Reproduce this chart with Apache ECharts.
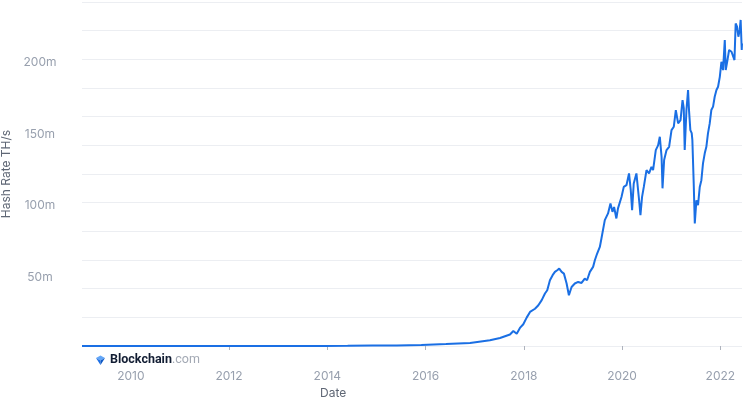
<!DOCTYPE html>
<html>
<head>
<meta charset="utf-8">
<script src="https://cdn.jsdelivr.net/npm/echarts@6/dist/echarts.min.js"></script>
<style>
html,body{margin:0;padding:0;background:#fff;}
#c{width:748px;height:400px;}
</style>
</head>
<body>
<div id="c"></div>
<script>
// Hash rate in million TH/s
var dates = [
  '2009-01-03','2010-07-01','2011-06-01','2012-06-01','2013-06-01','2013-12-01',
  '2014-06-01','2014-12-01','2015-06-01','2015-12-01','2016-06-01','2016-11-27',
  '2017-04-24','2017-07-08','2017-08-14','2017-09-20','2017-10-15','2017-11-09',
  '2017-12-03','2017-12-28','2018-01-22','2018-02-16','2018-03-25','2018-04-19',
  '2018-05-14','2018-06-07','2018-06-24','2018-07-14','2018-08-03','2018-08-20',
  '2018-09-06','2018-09-21','2018-10-09','2018-10-26','2018-11-15','2018-12-02',
  '2018-12-22','2019-01-15','2019-02-09','2019-03-06','2019-03-30','2019-04-16',
  '2019-05-07','2019-05-31','2019-06-13','2019-06-30','2019-07-20','2019-08-01',
  '2019-08-13','2019-08-26','2019-09-19','2019-10-07','2019-10-22','2019-11-03',
  '2019-11-20','2019-12-02','2019-12-15','2019-12-28','2020-01-14','2020-02-03',
  '2020-02-22','2020-03-06','2020-03-16','2020-03-28','2020-04-17','2020-04-29',
  '2020-05-07','2020-05-17','2020-05-29','2020-06-11','2020-07-01','2020-07-20',
  '2020-08-07','2020-08-19','2020-09-08','2020-09-25','2020-10-08','2020-10-21',
  '2020-10-28','2020-11-09','2020-11-27','2020-12-16','2021-01-03','2021-01-20',
  '2021-02-04','2021-02-21','2021-03-11','2021-03-26','2021-04-04','2021-04-11',
  '2021-04-24','2021-05-06','2021-05-13','2021-05-23','2021-06-02','2021-06-07',
  '2021-06-17','2021-06-25','2021-07-07','2021-07-19','2021-08-01','2021-08-13',
  '2021-08-25','2021-09-07','2021-09-19','2021-10-01','2021-10-14','2021-10-26',
  '2021-11-08','2021-11-20','2021-12-03','2021-12-15','2021-12-28','2022-01-09',
  '2022-01-21','2022-02-03','2022-02-10','2022-02-23','2022-03-07','2022-03-25',
  '2022-04-05','2022-04-16','2022-04-25','2022-05-05','2022-05-15','2022-05-25',
  '2022-06-01','2022-06-09','2022-06-11'
];
var hashRate = [
  0,0,0.00001,0.00002,0.0001,0.006,
  0.09,0.3,0.35,0.75,1.4,2.1,
  4.0,5.6,6.8,8.0,10.5,8.6,
  12.6,15.2,19.8,23.8,26,28.4,
  32,36.6,38.9,45.9,49.4,51.7,
  52.9,54,51.7,50.5,43.6,35.4,
  41.2,43.6,44.7,44,47,45.9,
  51.7,55.2,59.8,64.5,69.1,75,
  73.8,87.8,92.5,99.4,93.6,97,
  89,96,94.8,104,111,112.2,
  120.4,108.7,94.8,113.4,120.4,120,
  101.7,91.3,104,111,122.7,120.4,
  125,122.7,136.7,140,146,132,
  110,129.7,136.7,139,150.6,153,
  164.6,155.3,157.6,171.6,166,136.7,
  164.6,178.6,164.6,150.6,148.5,143.6,
  113.4,85.5,101.7,98.2,111,115.7,
  127.4,134.4,139,148.3,155.3,164.6,
  167,173.9,178.6,180.9,187.8,198.3,
  192.5,213.5,192.5,199.5,206.5,205.3,
  206.5,199.5,225,222.8,215.8,220.5,
  227.5,206.5,211
];
var yLabelValues = [50, 100, 150, 200];
var xLabelYears = [2010, 2012, 2014, 2016, 2018, 2020, 2022];
var xTickYears = [2012, 2014, 2016, 2018, 2020, 2022];

function ts(s){ var p = s.split('-'); return Date.UTC(+p[0], +p[1]-1, +p[2]); }
var seriesData = dates.map(function(d, i){ return [ts(d), hashRate[i]]; });
var yearTs = function(y){ return Date.UTC(y, 0, 1); };

var chart = echarts.init(document.getElementById('c'), null, {renderer: 'canvas'});
chart.setOption({
  animation: false,
  backgroundColor: '#ffffff',
  grid: {left: 82, right: 6, top: 2, bottom: 54, containLabel: false, outerBoundsMode: 'none'},
  xAxis: {
    type: 'value',
    min: ts('2009-01-03'),
    max: ts('2022-06-11'),
    offset: 10,
    axisLine: {show: false},
    splitLine: {show: false},
    axisTick: {show: true, length: 4, customValues: xTickYears.map(yearTs),
      lineStyle: {color: '#aeb3bd', width: 1}},
    axisLabel: {customValues: xLabelYears.map(yearTs), margin: 14,
      color: '#98a0ae', fontSize: 12, fontFamily: 'Inter',
      formatter: function(v){ return String(new Date(v).getUTCFullYear()); }}
  },
  yAxis: {
    type: 'value',
    min: 0, max: 240, interval: 20,
    name: 'Hash Rate TH/s',
    nameLocation: 'middle',
    nameGap: 67,
    nameTextStyle: {color: '#5f6775', fontSize: 12, fontFamily: 'Inter'},
    axisLine: {show: false},
    axisTick: {show: false},
    splitLine: {show: true, lineStyle: {color: '#eceef2', width: 1}},
    axisLabel: {customValues: yLabelValues, margin: 42, align: 'center',
      verticalAlign: 'top', lineHeight: 6,
      color: '#98a0ae', fontSize: 12, fontFamily: 'Inter',
      formatter: function(v){ return v + 'm'; }}
  },
  series: [{
    type: 'line',
    data: seriesData,
    showSymbol: false,
    symbol: 'none',
    lineStyle: {color: '#1a6fe4', width: 2},
    z: 3
  }],
  graphic: [
    {type: 'text', left: 320, top: 387, style: {text: 'Date', fill: '#5f6775', fontSize: 12, fontFamily: 'Inter'}},
    {type: 'polygon', shape: {points: [[96,358],[100.5,355.5],[105,358],[100.5,360.5]]}, style: {fill: '#63a6f7'}},
    {type: 'polygon', shape: {points: [[96,358],[100.5,360.5],[100.5,365]]}, style: {fill: '#1d6fe5'}},
    {type: 'polygon', shape: {points: [[105,358],[100.5,360.5],[100.5,365]]}, style: {fill: '#0d58c4'}},
    {type: 'text', left: 110, top: 353, style: {
      text: '{b|Blockchain}{c|.com}',
      rich: {
        b: {fontSize: 12.5, fontWeight: 'bold', fill: '#121d33', fontFamily: 'Roboto'},
        c: {fontSize: 12.5, fill: '#a3a9b4', fontFamily: 'Roboto'}
      }
    }}
  ]
});
</script>
</body>
</html>
